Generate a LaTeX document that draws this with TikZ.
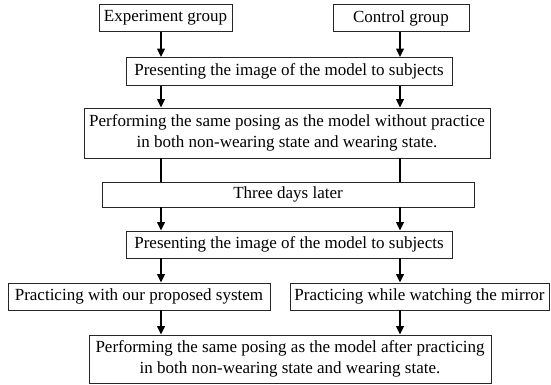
\documentclass[tikz,border=0pt]{standalone}
\usepackage{fontspec}
\setmainfont{Liberation Serif}
\usetikzlibrary{arrows.meta}
\begin{document}
\begin{tikzpicture}[x=1pt,y=-1pt,
  box/.style={draw=black!85, line width=0.8pt, inner sep=0pt, align=center,
    font=\fontsize{17}{21.5}\selectfont},
  flow/.style={line width=2pt, -{Triangle[width=7.5pt,length=8.5pt]}},
  link/.style={line width=2pt}
]
\useasboundingbox (0,0) rectangle (551,385);
% the two columns the connectors run along
\coordinate (colL) at (161,0);
\coordinate (colR) at (400,0);

\node[box, minimum width=133pt, minimum height=27pt] (exp)   at (165.5,18)  {Experiment group};
\node[box, minimum width=136pt, minimum height=27pt] (ctrl)  at (401,18)    {Control group};
\node[box, minimum width=326pt, minimum height=28pt] (pres1) at (289,71.5)  {Presenting the image of the model to subjects};
\node[box, minimum width=406pt, minimum height=50pt] (perf1) at (287,133)
  {Performing the same posing as the model without practice\\in both non-wearing state and wearing state.};
\node[box, minimum width=372pt, minimum height=25pt] (later) at (288,194.5) {Three days later};
\node[box, minimum width=326pt, minimum height=27pt] (pres2) at (289,244.5) {Presenting the image of the model to subjects};
\node[box, minimum width=262pt, minimum height=27pt] (pracA) at (139,296.5) {Practicing with our proposed system};
\node[box, minimum width=259pt, minimum height=27pt] (pracB) at (419.5,296.5) {Practicing while watching the mirror};
\node[box, minimum width=402pt, minimum height=48pt] (perf2) at (290,359)
  {Performing the same posing as the model after practicing\\in both non-wearing state and wearing state.};

\foreach \c in {colL,colR} {
  \draw[flow] (pres1.south -| \c) -- (perf1.north -| \c);
  \draw[link] (perf1.south -| \c) -- (later.north -| \c);
  \draw[flow] (later.south -| \c) -- (pres2.north -| \c);
}
\draw[flow] (exp.south -| colL)   -- (pres1.north -| colL);
\draw[flow] (ctrl.south -| colR)  -- (pres1.north -| colR);
\draw[flow] (pres2.south -| colL) -- (pracA.north -| colL);
\draw[flow] (pres2.south -| colR) -- (pracB.north -| colR);
\draw[flow] (pracA.south -| colL) -- (perf2.north -| colL);
\draw[flow] (pracB.south -| colR) -- (perf2.north -| colR);
\end{tikzpicture}
\end{document}
